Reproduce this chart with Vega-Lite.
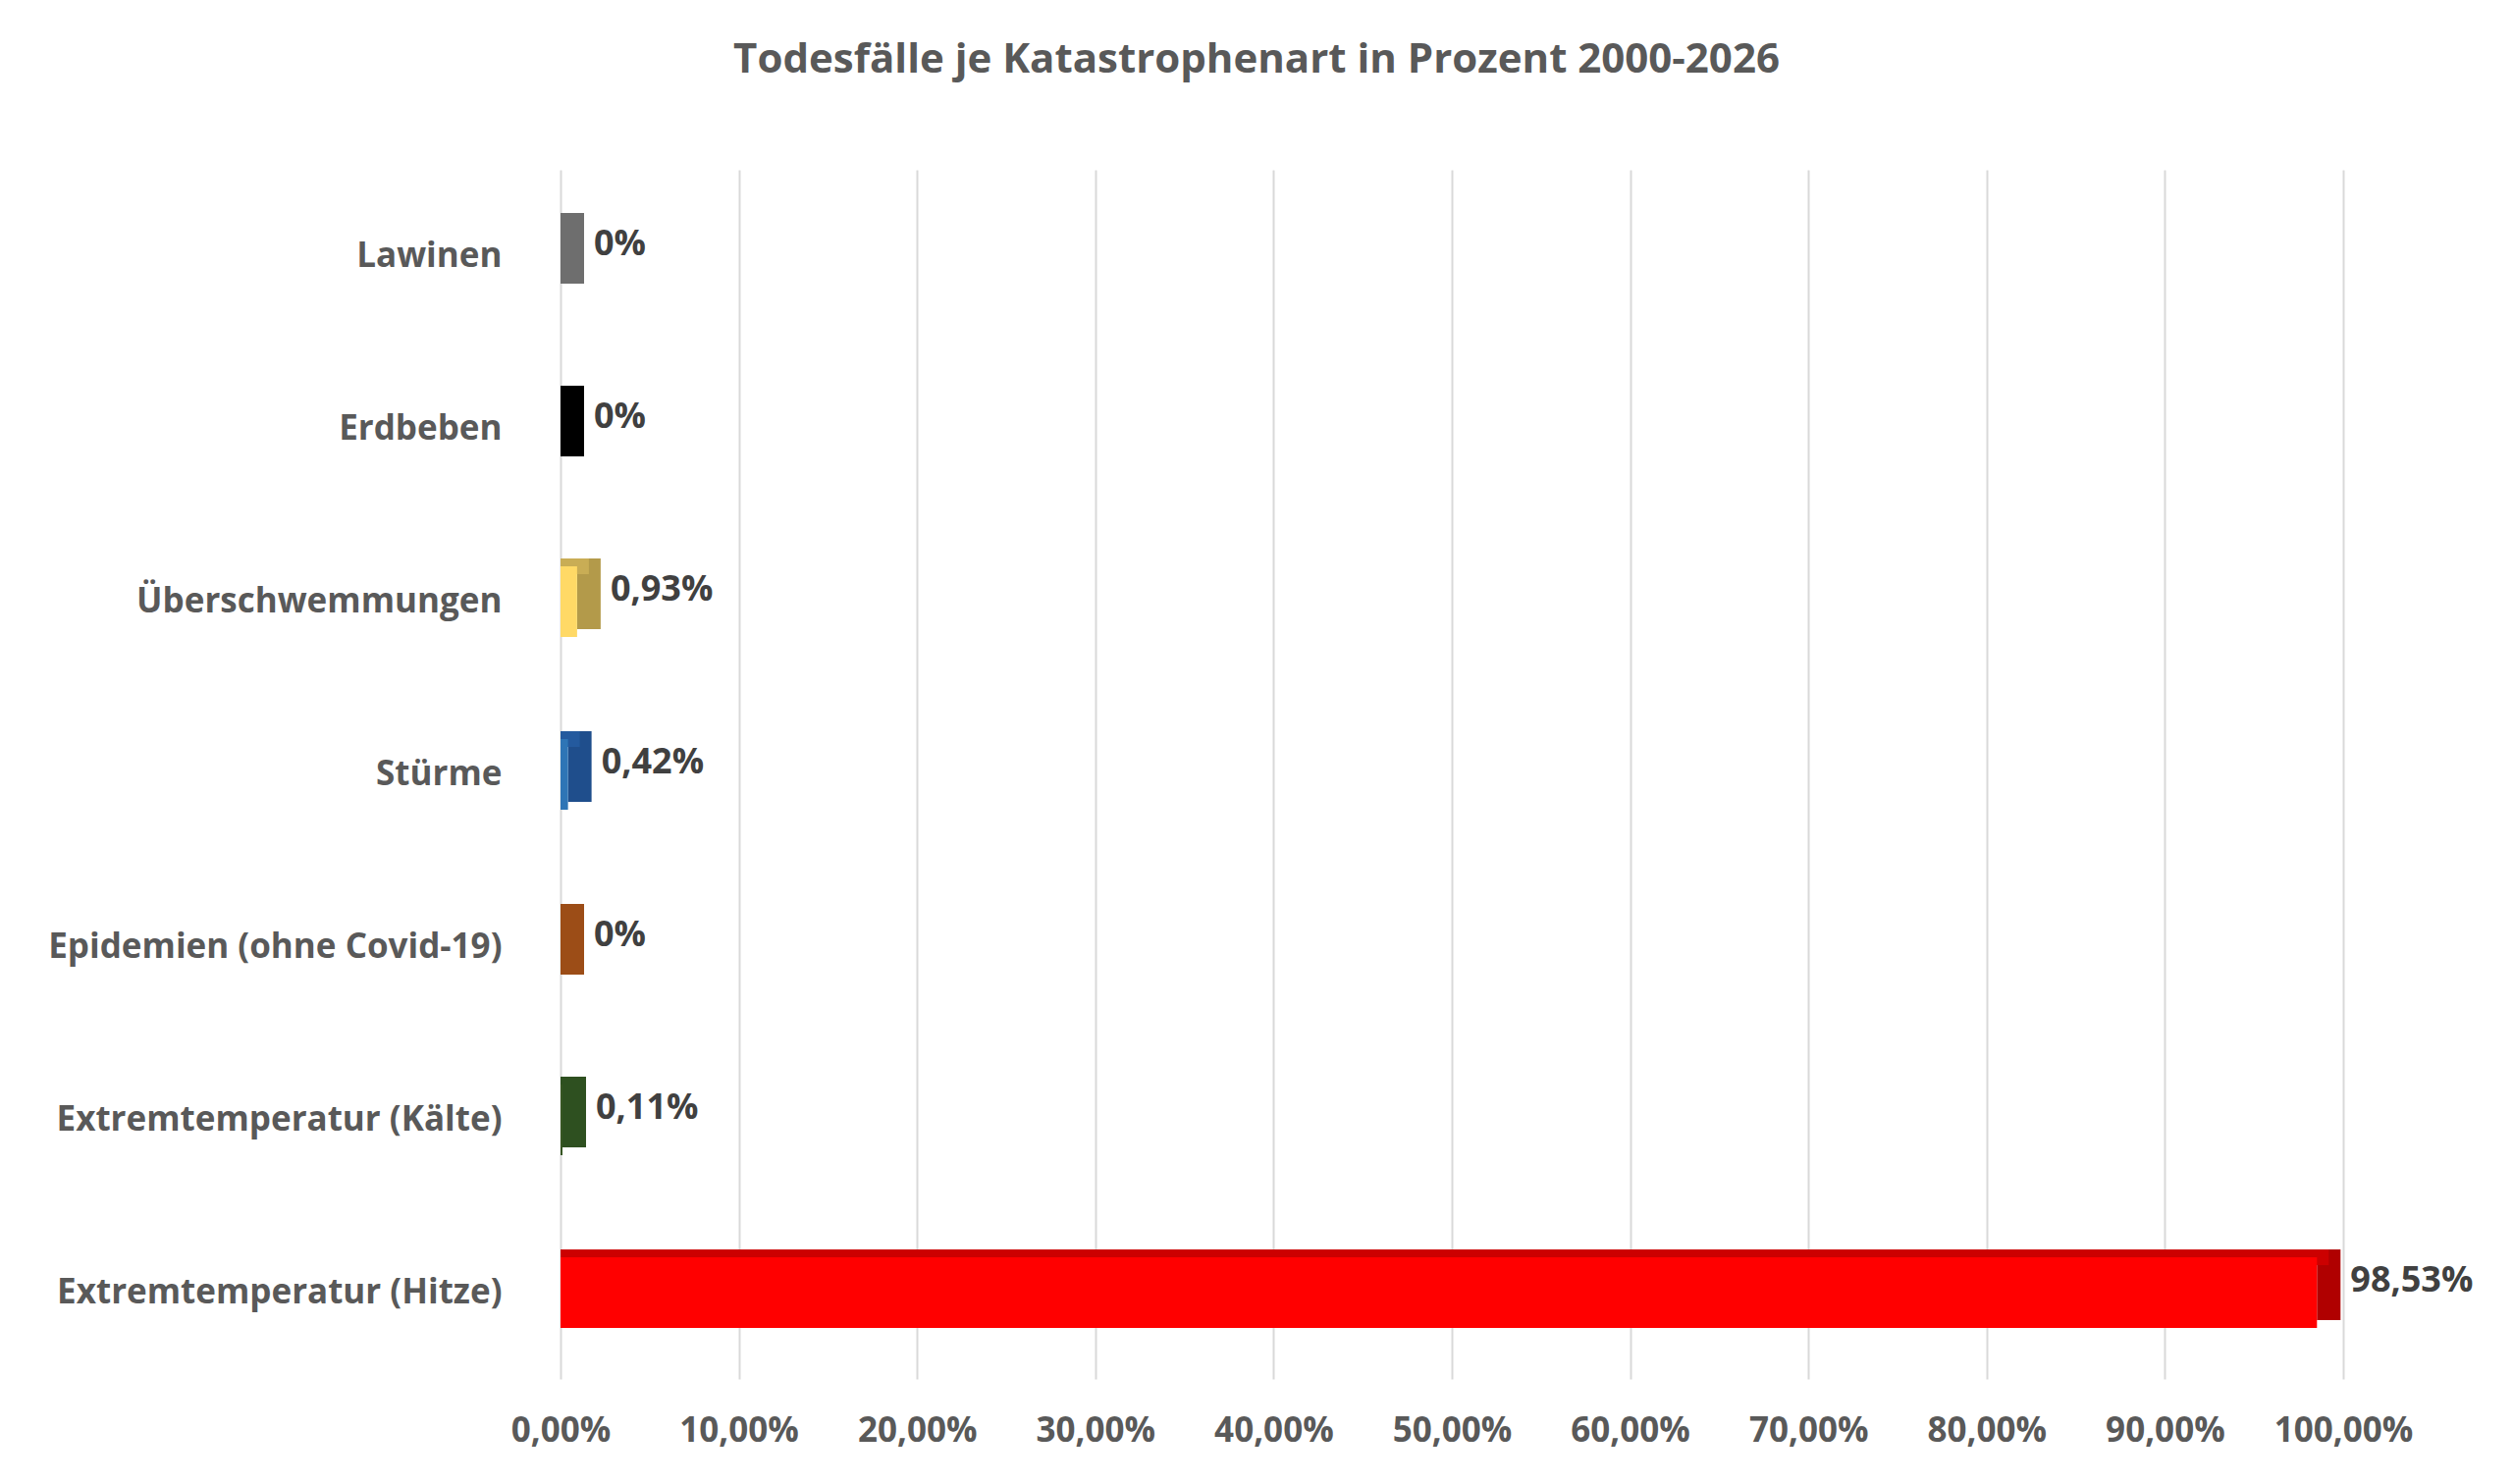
{
  "$schema": "https://vega.github.io/schema/vega-lite/v6.json",
  "autosize": "none",
  "padding": {"left": 571, "top": 173, "right": 173, "bottom": 104},
  "width": 1816,
  "height": 1232,
  "background": "white",
  "title": {"text": "Todesfälle je Katastrophenart in Prozent 2000-2026", "font": "Open Sans", "fontSize": 42, "fontWeight": "bold", "color": "#595959", "offset": 90, "dx": -199},
  "data": {"values": [
    {"art": "Lawinen", "wert": 0, "label": "0%"},
    {"art": "Erdbeben", "wert": 0, "label": "0%"},
    {"art": "Überschwemmungen", "wert": 0.93, "label": "0,93%"},
    {"art": "Stürme", "wert": 0.42, "label": "0,42%"},
    {"art": "Epidemien (ohne Covid-19)", "wert": 0, "label": "0%"},
    {"art": "Extremtemperatur (Kälte)", "wert": 0.11, "label": "0,11%"},
    {"art": "Extremtemperatur (Hitze)", "wert": 98.53, "label": "98,53%"}
  ]},
  "encoding": {
    "y": {"field": "art", "type": "nominal", "sort": null, "title": null,
      "axis": {"domain": false, "ticks": false, "labelPadding": 60, "labelLimit": 0, "labelFont": "Open Sans", "labelFontSize": 35, "labelFontWeight": "bold", "labelColor": "#595959"}},
    "x": {"field": "wert", "type": "quantitative", "title": null,
      "scale": {"domain": [0, 100]},
      "axis": {"values": [0,10,20,30,40,50,60,70,80,90,100], "labelExpr": "replace(format(datum.value, '.2f'), '.', ',') + '%'", "domain": false, "ticks": false, "grid": true, "gridColor": "#d9d9d9", "gridWidth": 2, "labelPadding": 35, "labelFont": "Open Sans", "labelFontSize": 35, "labelFontWeight": "bold", "labelColor": "#595959", "labelFlush": false}}
  },
  "layer": [
    {
      "mark": {"type": "bar", "height": 72, "yOffset": -8, "x2Offset": 24},
      "encoding": {
        "x": {"field": "wert", "type": "quantitative"},
        "x2": {"field": "wert"},
        "color": {"field": "art", "type": "nominal", "legend": null,
          "scale": {"domain": ["Lawinen","Erdbeben","Überschwemmungen","Stürme","Epidemien (ohne Covid-19)","Extremtemperatur (Kälte)","Extremtemperatur (Hitze)"],
            "range": ["#6e6e6e","#000000","#b39a4a","#1f4e8c","#9c4d17","#2e5020","#b00000"]}}
      }
    },
    {
      "mark": {"type": "bar", "height": 16, "yOffset": -36, "xOffset": 12},
      "encoding": {
        "x": {"field": "wert", "type": "quantitative"},
        "x2": {"datum": 0},
        "color": {"field": "art", "type": "nominal", "legend": null,
          "scale": {"domain": ["Lawinen","Erdbeben","Überschwemmungen","Stürme","Epidemien (ohne Covid-19)","Extremtemperatur (Kälte)","Extremtemperatur (Hitze)"],
            "range": ["#6e6e6e","#000000","#c9ad55","#245a9e","#9c4d17","#2e5020","#cc0000"]}}
      }
    },
    {
      "mark": {"type": "bar", "height": 72},
      "encoding": {
        "x": {"field": "wert", "type": "quantitative"},
        "color": {"field": "art", "type": "nominal", "legend": null,
          "scale": {"domain": ["Lawinen","Erdbeben","Überschwemmungen","Stürme","Epidemien (ohne Covid-19)","Extremtemperatur (Kälte)","Extremtemperatur (Hitze)"],
            "range": ["#7f7f7f","#0d0d0d","#ffd966","#2e75b6","#a9541c","#375623","#ff0000"]}}
      }
    },
    {
      "mark": {"type": "text", "align": "left", "dx": 34, "dy": -12, "font": "Open Sans", "fontSize": 36, "fontWeight": "bold", "color": "#404040"},
      "encoding": {
        "x": {"field": "wert", "type": "quantitative"},
        "text": {"field": "label"}
      }
    }
  ],
  "resolve": {"scale": {"color": "independent"}},
  "config": {"view": {"stroke": null}}
}
